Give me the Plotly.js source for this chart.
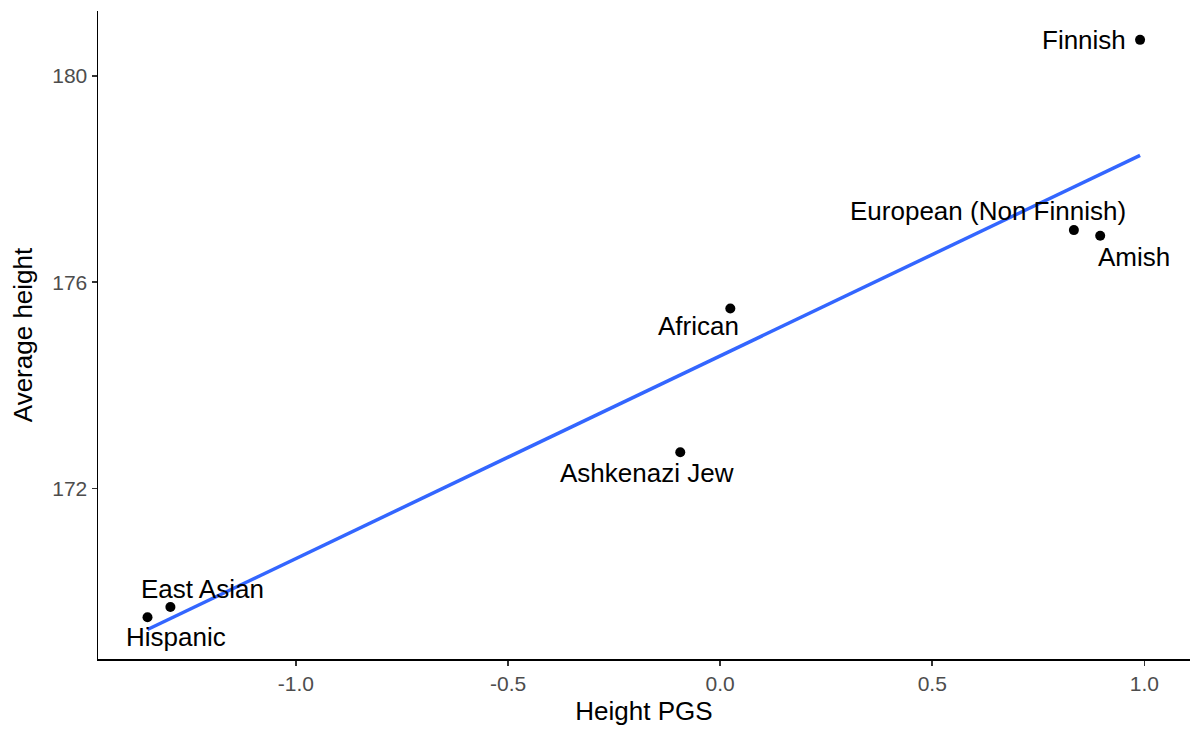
<!DOCTYPE html>
<html>
<head>
<meta charset="utf-8">
<script src="https://cdn.plot.ly/plotly-3.0.1.min.js"></script>
<style>html,body{margin:0;padding:0;background:#fff;}#chart{width:1193px;height:743px;}</style>
</head>
<body>
<div id="chart"></div>
<script>
// Data
const groups = ["Finnish", "European (Non Finnish)", "Amish", "African", "Ashkenazi Jew", "East Asian", "Hispanic"];
const heightPGS = [0.990, 0.834, 0.896, 0.024, -0.094, -1.296, -1.350];
const avgHeight = [180.70, 177.01, 176.90, 175.49, 172.70, 169.70, 169.50];
const xTickVals = [-1.0, -0.5, 0.0, 0.5, 1.0];
const xTickText = ["-1.0", "-0.5", "0.0", "0.5", "1.0"];
const yTickVals = [172, 176, 180];
const yTickText = ["172", "176", "180"];

// label offsets (pixels) – styling only
const labelShift = {
  "Finnish": {dx: -12, dy: 0, anchor: "right"},
  "European (Non Finnish)": {dx: -86, dy: 19, anchor: "center"},
  "Amish": {dx: 34, dy: -21, anchor: "center"},
  "African": {dx: -32, dy: -18, anchor: "center"},
  "Ashkenazi Jew": {dx: -33, dy: -21, anchor: "center"},
  "East Asian": {dx: 32, dy: 18, anchor: "center"},
  "Hispanic": {dx: 28, dy: -20, anchor: "center"}
};

// least-squares fit (geom_smooth method = "lm")
const n = heightPGS.length;
const mx = heightPGS.reduce((a, b) => a + b, 0) / n;
const my = avgHeight.reduce((a, b) => a + b, 0) / n;
let sxy = 0, sxx = 0;
for (let i = 0; i < n; i++) { sxy += (heightPGS[i] - mx) * (avgHeight[i] - my); sxx += (heightPGS[i] - mx) ** 2; }
const slope = sxy / sxx, icpt = my - slope * mx;
const xmin = Math.min(...heightPGS), xmax = Math.max(...heightPGS);
const fitX = [], fitY = [];
for (let k = 0; k <= 80; k++) { const xv = xmin + (xmax - xmin) * k / 80; fitX.push(xv); fitY.push(icpt + slope * xv); }

const font = "Liberation Sans, Arial, Helvetica, sans-serif";

const traces = [
  {x: heightPGS, y: avgHeight, mode: "markers", type: "scatter",
   marker: {color: "#000000", size: 10}, hoverinfo: "text", text: groups, showlegend: false, cliponaxis: false},
  {x: fitX, y: fitY, mode: "lines", type: "scatter",
   line: {color: "#3366FF", width: 3.5}, hoverinfo: "skip", showlegend: false}
];

const annotations = groups.map((g, i) => ({
  x: heightPGS[i], y: avgHeight[i], xref: "x", yref: "y",
  text: g, showarrow: false,
  xanchor: labelShift[g].anchor, yanchor: "middle",
  xshift: labelShift[g].dx, yshift: labelShift[g].dy,
  font: {family: font, size: 26, color: "#000000"}
}));

const layout = {
  width: 1193, height: 743,
  margin: {l: 98, r: 3, t: 11, b: 84},
  paper_bgcolor: "#ffffff", plot_bgcolor: "#ffffff",
  font: {family: font},
  showlegend: false,
  xaxis: {
    range: [-1.4667, 1.1077], tickvals: xTickVals, ticktext: xTickText,
    showgrid: false, zeroline: false, showline: true, linecolor: "#000000", linewidth: 1.5,
    ticks: "outside", ticklen: 5, tickwidth: 1.5, tickcolor: "#333333",
    tickfont: {family: font, size: 21, color: "#4D4D4D"},
    title: {text: "Height PGS", font: {family: font, size: 26, color: "#000000"}, standoff: 8}
  },
  yaxis: {
    range: [168.69, 181.26], tickvals: yTickVals, ticktext: yTickText,
    showgrid: false, zeroline: false, showline: true, linecolor: "#000000", linewidth: 1.5,
    ticks: "outside", ticklen: 5, tickwidth: 1.5, tickcolor: "#333333",
    tickfont: {family: font, size: 21, color: "#4D4D4D"},
    title: {text: "Average height", font: {family: font, size: 26, color: "#000000"}, standoff: 12}
  },
  annotations: annotations
};

Plotly.newPlot("chart", traces, layout, {displayModeBar: false, staticPlot: true});
</script>
</body>
</html>
